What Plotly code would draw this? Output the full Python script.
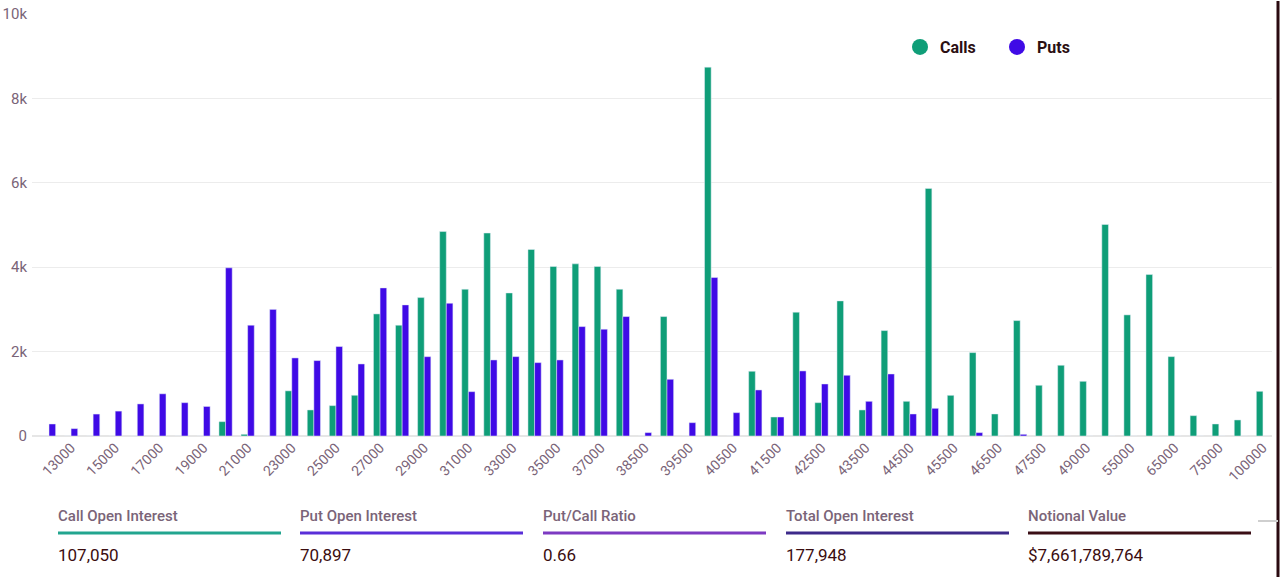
import plotly.graph_objects as go

strikes = ["12000", "13000", "14000", "15000", "16000", "17000", "18000", "19000", "20000", "21000",
           "22000", "23000", "24000", "25000", "26000", "27000", "28000", "29000", "30000", "31000",
           "32000", "33000", "34000", "35000", "36000", "37000", "38000", "38500", "39000", "39500",
           "40000", "40500", "41000", "41500", "42000", "42500", "43000", "43500", "44000", "44500",
           "45000", "45500", "46000", "46500", "47000", "47500", "48000", "49000", "50000", "55000",
           "60000", "65000", "70000", "75000", "80000", "100000"]

calls = [0, 0, 0, 0, 0, 0, 0, 0, 340, 40,
         0, 1070, 617, 720, 965, 2893, 2625, 3280, 4845, 3478,
         4810, 3390, 4420, 4016, 4079, 4016, 3478, 0, 2830, 0,
         8741, 0, 1534, 450, 2933, 790, 3202, 617, 2498, 822,
         5867, 964, 1976, 522, 2735, 1202, 1676, 1296, 5012, 2870,
         3826, 1881, 482, 285, 380, 1059]

puts = [285, 175, 520, 590, 760, 1000, 790, 700, 3985, 2625,
        3000, 1850, 1787, 2120, 1707, 3510, 3107, 1880, 3146, 1051,
        1802, 1881, 1739, 1802, 2593, 2530, 2830, 80, 1344, 316,
        3755, 553, 1091, 450, 1542, 1233, 1439, 822, 1470, 522,
        656, 0, 80, 0, 40, 0, 0, 0, 0, 0,
        0, 0, 0, 0, 0, 0]

y_ticks = [0, 2000, 4000, 6000, 8000, 10000]
y_tick_text = ["0", "2k", "4k", "6k", "8k", "10k"]
x_tick_labels = strikes[1::2]

stat_labels = ["Call Open Interest", "Put Open Interest", "Put/Call Ratio",
               "Total Open Interest", "Notional Value"]
stat_values = ["107,050", "70,897", "0.66", "177,948", "$7,661,789,764"]
stat_colors = ["#22a58f", "#5a2ed8", "#7d3ac2", "#3d2a8a", "#3b0e16"]

CALL_COLOR = "#0f9e78"
PUT_COLOR = "#3f0ae6"
LABEL_COLOR = "#7a6478"
VALUE_COLOR = "#3b0d10"

W, H = 1280, 578
L, R, T, B = 32, 8, 14, 142
pw = W - L - R
ph = H - T - B


def px_x(px):
    return (px - L) / pw


def px_y(py):
    return (H - B - py) / ph


fig = go.Figure()
fig.add_trace(go.Bar(x=strikes, y=calls, name="Calls", marker_color=CALL_COLOR,
                     showlegend=False))
fig.add_trace(go.Bar(x=strikes, y=puts, name="Puts", marker_color=PUT_COLOR,
                     showlegend=False))
fig.add_trace(go.Scatter(x=[None], y=[None], mode="markers", name="Calls",
                         marker=dict(color=CALL_COLOR, size=16, symbol="circle")))
fig.add_trace(go.Scatter(x=[None], y=[None], mode="markers", name="Puts",
                         marker=dict(color=PUT_COLOR, size=16, symbol="circle")))

annotations = []
shapes = []
col_x = [56, 298, 541, 784, 1026]
for i, (lab, val, col) in enumerate(zip(stat_labels, stat_values, stat_colors)):
    x0 = col_x[i]
    annotations.append(dict(xref="paper", yref="paper", x=px_x(x0), y=px_y(516),
                            xanchor="left", yanchor="middle", text=lab, showarrow=False,
                            font=dict(family="Roboto", size=15, color=LABEL_COLOR, weight=500)))
    annotations.append(dict(xref="paper", yref="paper", x=px_x(x0), y=px_y(555),
                            xanchor="left", yanchor="middle", text=val, showarrow=False,
                            font=dict(family="Roboto", size=17, color=VALUE_COLOR)))
    shapes.append(dict(type="line", xref="paper", yref="paper",
                       x0=px_x(x0 + 2), x1=px_x(x0 + 225), y0=px_y(533), y1=px_y(533),
                       line=dict(color=col, width=3)))

shapes.append(dict(type="line", xref="paper", yref="paper", layer="above",
                   x0=px_x(1278), x1=px_x(1278), y0=px_y(1), y1=px_y(577),
                   line=dict(color="#2a0a10", width=3)))
shapes.append(dict(type="line", xref="paper", yref="paper",
                   x0=px_x(1258), x1=px_x(1278), y0=px_y(521), y1=px_y(521),
                   line=dict(color="#cfcfcf", width=2)))

fig.update_layout(
    width=W, height=H,
    margin=dict(l=L, r=R, t=T, b=B, autoexpand=False),
    paper_bgcolor="white", plot_bgcolor="white",
    barmode="group", bargap=0.4, bargroupgap=0.0,
    font=dict(family="Roboto", color=LABEL_COLOR),
    legend=dict(orientation="h", x=px_x(900), y=px_y(47), xanchor="left", yanchor="middle",
                font=dict(family="Roboto", size=16, color="#2b0f12", weight="bold"),
                entrywidth=52, entrywidthmode="pixels", itemwidth=30,
                bgcolor="rgba(0,0,0,0)"),
    xaxis=dict(type="category", range=[-0.77, 55.41], tickmode="array",
               tickvals=x_tick_labels, ticktext=x_tick_labels, tickangle=-45,
               tickfont=dict(family="Roboto", size=14, color=LABEL_COLOR),
               showgrid=False, showline=False, zeroline=False, ticks="", automargin=False),
    yaxis=dict(range=[0, 10000], tickmode="array", tickvals=y_ticks, ticktext=y_tick_text,
               tickfont=dict(family="Roboto", size=15, color=LABEL_COLOR),
               showgrid=True, gridcolor="#ececec", gridwidth=1, zeroline=True,
               zerolinecolor="#e6e6e6", showline=False, ticks="", ticklabelstandoff=4,
               automargin=False),
    annotations=annotations,
    shapes=shapes,
)

fig.write_html("out.html", config={"displayModeBar": False},
               post_script="document.body.style.margin='0';document.body.style.overflow='hidden';")
